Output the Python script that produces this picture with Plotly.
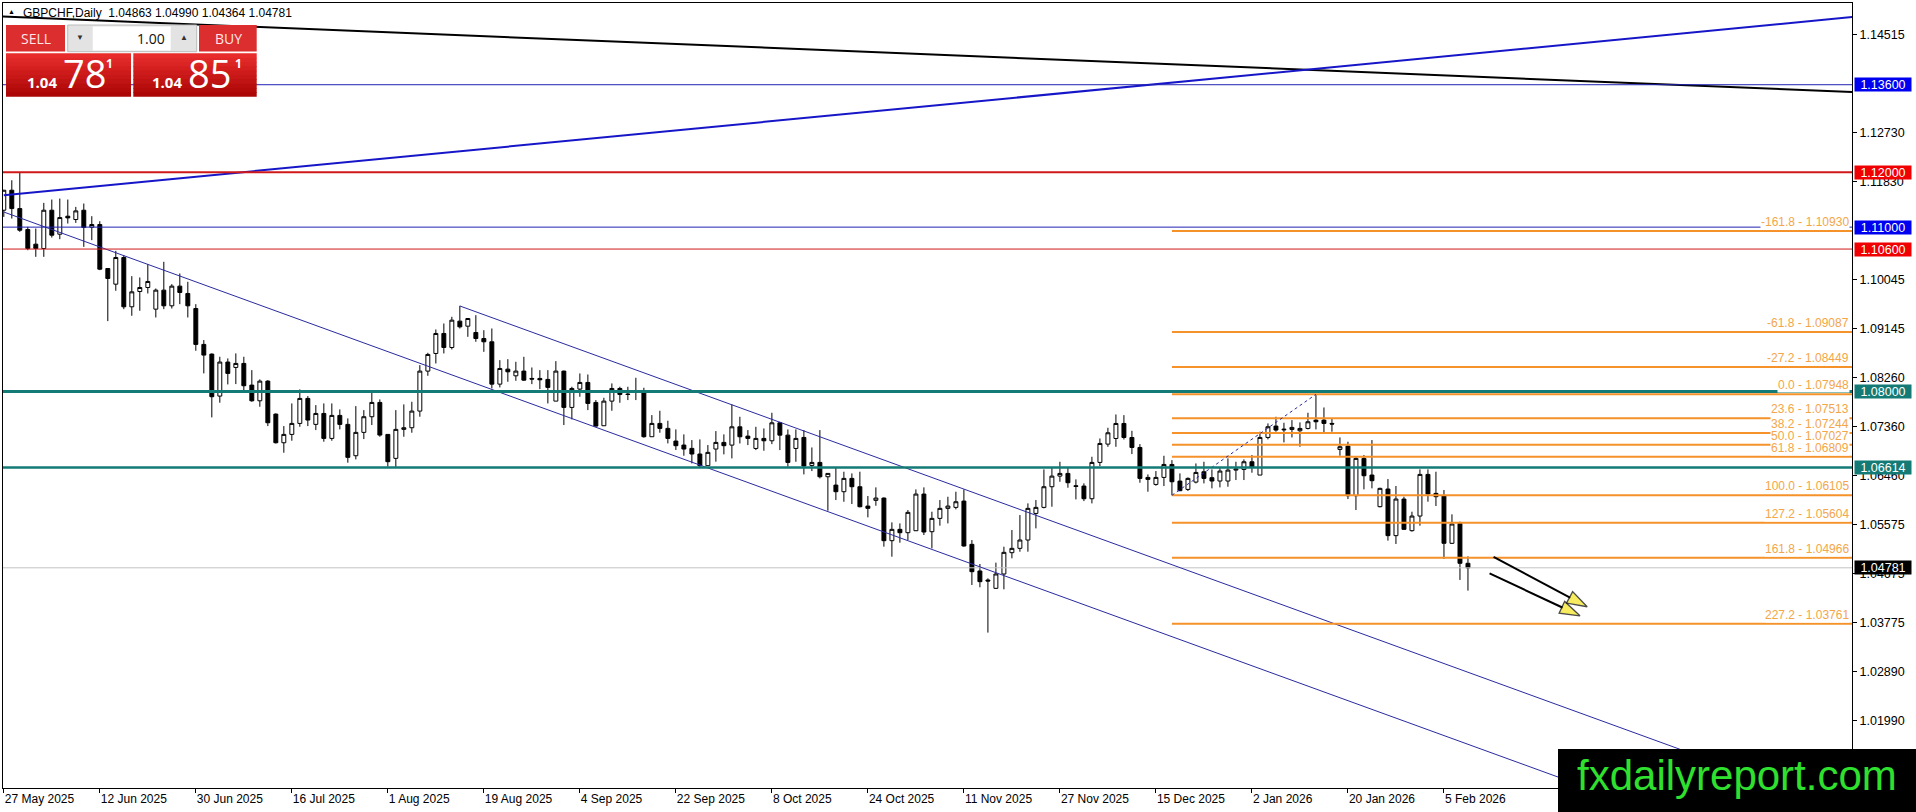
import plotly.graph_objects as go

# GBPCHF daily candles, bar 0 = 27 May 2025, last bar = 10 Feb 2026
opens = [
    1.11309, 1.11674, 1.11339, 1.10956, 1.10689, 1.10610, 1.11309, 1.10871, 1.11200, 1.11139,
    1.11309, 1.10999, 1.11048, 1.10245, 1.09959, 1.10446, 1.09546, 1.09825, 1.09898, 1.09503,
    1.09850, 1.09564, 1.09923, 1.09789, 1.09515, 1.08859, 1.08682, 1.07916, 1.08537, 1.08439,
    1.08512, 1.08116, 1.07830, 1.08189, 1.07587, 1.07064, 1.07216, 1.07417, 1.07873, 1.07399,
    1.07599, 1.07143, 1.07563, 1.07399, 1.06827, 1.07253, 1.07539, 1.07800, 1.07216, 1.06779,
    1.07308, 1.07338, 1.07642, 1.08372, 1.08694, 1.09059, 1.08803, 1.09284, 1.09192, 1.09077,
    1.08967, 1.08907, 1.08134, 1.08408, 1.08286, 1.08372, 1.08238, 1.08238, 1.08220, 1.07824,
    1.08372, 1.07709, 1.08043, 1.08165, 1.07800, 1.07374, 1.07824, 1.08055, 1.07952, 1.08013,
    1.08007, 1.07174, 1.07417, 1.07326, 1.07095, 1.07022, 1.06961, 1.06858, 1.06645, 1.06949,
    1.07070, 1.07021, 1.07355, 1.07185, 1.06960, 1.07143, 1.07100, 1.07428, 1.07203, 1.06960,
    1.07161, 1.06650, 1.06705, 1.06443, 1.06291, 1.06170, 1.06413, 1.06261, 1.05908, 1.06012,
    1.06054, 1.05276, 1.05483, 1.05422, 1.05458, 1.06127, 1.05440, 1.05683, 1.05866, 1.05884,
    1.05999, 1.05209, 1.04723, 1.04558, 1.04406, 1.04668, 1.05057, 1.05136, 1.05288, 1.05774,
    1.05884, 1.06261, 1.06455, 1.06504, 1.06279, 1.06273, 1.06042, 1.06705, 1.07039, 1.07142,
    1.07416, 1.07160, 1.06978, 1.06431, 1.06303, 1.06431, 1.06668, 1.06364, 1.06212, 1.06346,
    1.06534, 1.06426, 1.06365, 1.06365, 1.06565, 1.06577, 1.06717, 1.06474, 1.07161, 1.07368,
    1.07313, 1.07307, 1.07283, 1.07325, 1.07477, 1.07477, 1.07417, 1.06942, 1.07003, 1.06097,
    1.06778, 1.06474, 1.05897, 1.06219, 1.05368, 1.06036, 1.05459, 1.05726, 1.06486, 1.06140,
    1.06091, 1.05228, 1.05593, 1.04863]
highs = [
    1.11680, 1.11856, 1.12008, 1.11005, 1.10975, 1.11443, 1.11504, 1.11522, 1.11504, 1.11370,
    1.11431, 1.11200, 1.11108, 1.10250, 1.10567, 1.10488, 1.10105, 1.10081, 1.10324, 1.09880,
    1.10367, 1.09959, 1.10154, 1.10002, 1.09594, 1.08938, 1.08695, 1.08634, 1.08603, 1.08695,
    1.08634, 1.08390, 1.08220, 1.08207, 1.07600, 1.07368, 1.07782, 1.08037, 1.07916, 1.07751,
    1.07782, 1.07782, 1.07672, 1.07508, 1.07733, 1.07660, 1.07982, 1.07855, 1.07220, 1.07660,
    1.07764, 1.07812, 1.08481, 1.08706, 1.09132, 1.09241, 1.09363, 1.09563, 1.09332, 1.09393,
    1.09119, 1.09150, 1.08572, 1.08590, 1.08542, 1.08633, 1.08438, 1.08390, 1.08390, 1.08554,
    1.08380, 1.08086, 1.08329, 1.08310, 1.07843, 1.07885, 1.08147, 1.08086, 1.08086, 1.08250,
    1.08068, 1.07569, 1.07648, 1.07466, 1.07308, 1.07216, 1.07113, 1.07125, 1.07022, 1.07277,
    1.07216, 1.07763, 1.07538, 1.07295, 1.07355, 1.07325, 1.07611, 1.07447, 1.07307, 1.07307,
    1.07295, 1.06978, 1.07295, 1.06504, 1.06608, 1.06535, 1.06504, 1.06535, 1.06091, 1.06249,
    1.06066, 1.05610, 1.05592, 1.05835, 1.06212, 1.06249, 1.05805, 1.06018, 1.06078, 1.06170,
    1.06212, 1.05288, 1.04850, 1.04589, 1.04875, 1.05166, 1.05470, 1.05744, 1.05957, 1.06018,
    1.06577, 1.06613, 1.06717, 1.06613, 1.06395, 1.06322, 1.06808, 1.07142, 1.07337, 1.07580,
    1.07568, 1.07282, 1.07039, 1.06486, 1.06547, 1.06826, 1.06747, 1.06504, 1.06431, 1.06686,
    1.06717, 1.06578, 1.06614, 1.06778, 1.06717, 1.06760, 1.06839, 1.07265, 1.07417, 1.07538,
    1.07429, 1.07477, 1.07435, 1.07611, 1.07948, 1.07708, 1.07508, 1.07161, 1.07082, 1.06821,
    1.06839, 1.07113, 1.06243, 1.06401, 1.06274, 1.06079, 1.05805, 1.06578, 1.06578, 1.06535,
    1.06201, 1.05757, 1.05623, 1.04990]
lows = [
    1.11187, 1.11157, 1.10914, 1.10579, 1.10458, 1.10458, 1.10810, 1.10780, 1.11066, 1.11078,
    1.10640, 1.10762, 1.10215, 1.09284, 1.09838, 1.09503, 1.09382, 1.09473, 1.09789, 1.09351,
    1.09503, 1.09515, 1.09594, 1.09351, 1.08743, 1.08330, 1.07527, 1.07795, 1.08129, 1.08135,
    1.08008, 1.07812, 1.07721, 1.07368, 1.07050, 1.06882, 1.07101, 1.07356, 1.07368, 1.07295,
    1.07083, 1.07101, 1.07308, 1.06700, 1.06760, 1.07131, 1.07387, 1.07174, 1.06627, 1.06614,
    1.07174, 1.07247, 1.07539, 1.08286, 1.08511, 1.08694, 1.08767, 1.09150, 1.08998, 1.08907,
    1.08724, 1.08055, 1.08074, 1.08177, 1.08195, 1.08195, 1.08134, 1.08043, 1.07782, 1.07824,
    1.07387, 1.07490, 1.07903, 1.07660, 1.07356, 1.07370, 1.07648, 1.07794, 1.07843, 1.07843,
    1.07156, 1.07174, 1.07247, 1.07052, 1.06931, 1.06827, 1.06687, 1.06614, 1.06640, 1.06718,
    1.06852, 1.06778, 1.07051, 1.07021, 1.06930, 1.06918, 1.07039, 1.06930, 1.06626, 1.06717,
    1.06486, 1.06547, 1.06413, 1.05823, 1.06018, 1.05987, 1.05945, 1.05884, 1.05702, 1.05914,
    1.05167, 1.04984, 1.05239, 1.05288, 1.05452, 1.05379, 1.05136, 1.05550, 1.05592, 1.05848,
    1.05167, 1.04467, 1.04425, 1.03598, 1.04394, 1.04388, 1.04954, 1.05075, 1.05075, 1.05501,
    1.05866, 1.05896, 1.06352, 1.06243, 1.06030, 1.05999, 1.05957, 1.06638, 1.06990, 1.06990,
    1.07124, 1.06857, 1.06334, 1.06170, 1.06279, 1.06273, 1.06105, 1.06182, 1.06182, 1.06322,
    1.06322, 1.06231, 1.06249, 1.06261, 1.06383, 1.06383, 1.06517, 1.06474, 1.07125, 1.07265,
    1.07070, 1.07161, 1.06991, 1.07307, 1.07307, 1.07246, 1.07265, 1.06827, 1.06036, 1.05836,
    1.06213, 1.06231, 1.05884, 1.05277, 1.05216, 1.05471, 1.05441, 1.05550, 1.05988, 1.05909,
    1.04942, 1.05216, 1.04559, 1.04364]
closes = [
    1.11674, 1.11339, 1.10944, 1.10610, 1.10610, 1.11309, 1.10853, 1.11175, 1.11169, 1.11297,
    1.10993, 1.11048, 1.10233, 1.10063, 1.10446, 1.09546, 1.09819, 1.09898, 1.10008, 1.09850,
    1.09564, 1.09923, 1.09807, 1.09564, 1.08859, 1.08664, 1.07904, 1.08537, 1.08330, 1.08512,
    1.08105, 1.07830, 1.08189, 1.07429, 1.07064, 1.07216, 1.07417, 1.07873, 1.07478, 1.07599,
    1.07143, 1.07563, 1.07399, 1.06797, 1.07253, 1.07539, 1.07800, 1.07204, 1.06718, 1.07308,
    1.07338, 1.07642, 1.08372, 1.08676, 1.09059, 1.08803, 1.09302, 1.09180, 1.09332, 1.08967,
    1.08907, 1.08134, 1.08420, 1.08359, 1.08372, 1.08207, 1.08226, 1.08213, 1.08074, 1.08372,
    1.07709, 1.08055, 1.08165, 1.07782, 1.07368, 1.07824, 1.08055, 1.07946, 1.07946, 1.07995,
    1.07174, 1.07417, 1.07326, 1.07143, 1.07010, 1.06949, 1.06858, 1.06645, 1.06888, 1.07070,
    1.07010, 1.07355, 1.07173, 1.07143, 1.07143, 1.07100, 1.07428, 1.07203, 1.06705, 1.07143,
    1.06638, 1.06705, 1.06443, 1.06504, 1.06170, 1.06413, 1.06261, 1.05896, 1.05866, 1.06054,
    1.05276, 1.05483, 1.05422, 1.05793, 1.06127, 1.05434, 1.05683, 1.05866, 1.05908, 1.05987,
    1.05179, 1.04710, 1.04528, 1.04540, 1.04668, 1.05063, 1.05136, 1.05288, 1.05866, 1.05884,
    1.06261, 1.06455, 1.06504, 1.06334, 1.06267, 1.06042, 1.06705, 1.07051, 1.07246, 1.07416,
    1.07160, 1.06978, 1.06413, 1.06395, 1.06431, 1.06668, 1.06352, 1.06188, 1.06413, 1.06522,
    1.06413, 1.06365, 1.06547, 1.06565, 1.06584, 1.06717, 1.06614, 1.07161, 1.07356, 1.07295,
    1.07301, 1.07344, 1.07325, 1.07447, 1.07447, 1.07417, 1.07405, 1.06991, 1.06097, 1.06778,
    1.06462, 1.06371, 1.06231, 1.05368, 1.06036, 1.05483, 1.05726, 1.06486, 1.06128, 1.06079,
    1.05228, 1.05580, 1.04863, 1.04781]

tick_bars = [0, 12, 24, 36, 48, 60, 72, 84, 96, 108, 120, 132, 144, 156, 168, 180]
tick_labels = ["27 May 2025", "12 Jun 2025", "30 Jun 2025", "16 Jul 2025", "1 Aug 2025",
               "19 Aug 2025", "4 Sep 2025", "22 Sep 2025", "8 Oct 2025", "24 Oct 2025",
               "11 Nov 2025", "27 Nov 2025", "15 Dec 2025", "2 Jan 2026", "20 Jan 2026",
               "5 Feb 2026"]
price_ticks = [1.14515, 1.12730, 1.11830, 1.10045, 1.09145, 1.08260,
               1.07360, 1.06460, 1.05575, 1.04675, 1.03775, 1.02890, 1.01990]

# horizontal levels with tags on the price axis
level_prices = [1.13600, 1.12000, 1.11000, 1.10600, 1.08000, 1.06614]

# fibonacci drawn from bar 146 low to bar 164 high
fib_bars = [146, 164]
fib_levels = [-161.8, -61.8, -27.2, 0.0, 23.6, 38.2, 50.0, 61.8, 100.0, 127.2, 161.8, 227.2]
fib_prices = [1.10930, 1.09087, 1.08449, 1.07948, 1.07513, 1.07244, 1.07027, 1.06809,
              1.06105, 1.05604, 1.04966, 1.03761]

# trend lines: two anchor points each (bar, price)
black_line = ([0, 183], [1.14844, 1.13753])
blue_line = ([0, 183], [1.11583, 1.14160])
channel_low = ([0, 183], [1.11276, 1.01559])
channel_high = ([57, 183], [1.09561, 1.02874])

# projection arrows (start, tip)
arrow_bars = [[186.2, 197.9], [185.7, 197.0]]
arrow_prices = [[1.04982, 1.04070], [1.04679, 1.03905]]

symbol = "GBPCHF,Daily"
bid = 1.04781
ask = 1.04851

# ---- layout geometry (pixels) ----
W, H = 1916, 812
PL, PT, PW, PH = 3, 3, 1849, 785
X_RANGE = [-0.1, 231.0]
Y_RANGE = [1.00761, 1.15092]
FONT = "Liberation Sans"
UI_FONT = "Open Sans"


def px(x):
    return (x - PL) / PW


def py(y):
    return 1 - (y - PT) / PH


def ray(line, x_start=None, x_end=240):
    xs, ys = line
    slope = (ys[1] - ys[0]) / (xs[1] - xs[0])
    x0 = xs[0] if x_start is None else x_start
    return [x0, x_end], [ys[0] + slope * (x0 - xs[0]), ys[0] + slope * (x_end - xs[0])]


fig = go.Figure()
bars = list(range(len(opens)))
fig.add_trace(go.Candlestick(
    x=bars, open=opens, high=highs, low=lows, close=closes,
    increasing=dict(line=dict(color="black", width=1), fillcolor="white"),
    decreasing=dict(line=dict(color="black", width=1), fillcolor="black"),
    whiskerwidth=0, hoverinfo="skip"))


def add_line(xs, ys, color, width, dash="solid"):
    fig.add_trace(go.Scatter(x=xs, y=ys, mode="lines", hoverinfo="skip",
                             line=dict(color=color, width=width, dash=dash)))


# current price line
add_line([-5, 240], [closes[-1], closes[-1]], "#c4c4c4", 1)

# channel
add_line(*ray(channel_low), "#2a2aa0", 1)
add_line(*ray(channel_high), "#2a2aa0", 1)
# long trend lines
add_line(*ray(black_line, x_start=-5), "black", 2)
add_line(*ray(blue_line), "#1616c8", 2)

# fibonacci
fib_color = "#f5922a"
for p in fib_prices:
    add_line([fib_bars[0], 240], [p, p], fib_color, 2)
add_line(fib_bars, [fib_prices[fib_levels.index(100.0)], fib_prices[fib_levels.index(0.0)]],
         "#2a2aa0", 1, "3px,3px")

# horizontal levels
level_styles = [("#2020b4", 1), ("#d01818", 2), ("#2020b4", 1), ("#d01818", 1),
                ("#137a75", 3), ("#137a75", 2.5)]
for p, (c, w) in zip(level_prices, level_styles):
    add_line([-5, 240], [p, p], c, w)

# arrows
for xs, ys in zip(arrow_bars, arrow_prices):
    fig.add_trace(go.Scatter(
        x=xs, y=ys, mode="lines+markers", hoverinfo="skip",
        line=dict(color="black", width=2),
        marker=dict(symbol=["circle", "arrow"], size=[0, 21], angleref="previous",
                    color="#f4e41c", line=dict(color="black", width=1.3))))

shapes = []
annots = []


def rect(x0, y0, x1, y1, fill, line_color=None):
    shapes.append(dict(type="rect", xref="paper", yref="paper", layer="above",
                       x0=px(x0), x1=px(x1), y0=py(y1), y1=py(y0), fillcolor=fill,
                       line=dict(width=1 if line_color else 0, color=line_color or fill)))


def text(x, y, s, size, color, xanchor="center", family=FONT):
    annots.append(dict(xref="paper", yref="paper", x=px(x), y=py(y), text=s, showarrow=False,
                       xanchor=xanchor, yanchor="middle",
                       font=dict(size=size, color=color, family=family)))


def red_gradient(x0, y0, x1, y1, steps=10):
    top, bottom = (232, 44, 44), (172, 6, 6)
    h = (y1 - y0) / steps
    for i in range(steps):
        t = i / (steps - 1)
        c = tuple(round(a + (b - a) * t) for a, b in zip(top, bottom))
        rect(x0, y0 + i * h, x1, min(y1, y0 + (i + 1) * h + 0.6), "rgb(%d,%d,%d)" % c)


# fib labels
for lvl, p in zip(fib_levels, fib_prices):
    annots.append(dict(xref="paper", yref="y", x=1, y=p, xanchor="right", yanchor="bottom",
                       xshift=-2, yshift=1, text=f"{lvl:.1f} - {p:.5f}", showarrow=False,
                       bgcolor="white", borderpad=0,
                       font=dict(size=12, color="#f3a649", family=FONT)))

# price axis tags
tag_colors = ["#0000f0", "#f00000", "#0000f0", "#f00000", "#137a75", "#137a75"]
for p, c in zip(level_prices + [closes[-1]], tag_colors + ["black"]):
    annots.append(dict(xref="paper", yref="y", x=1, y=p, xanchor="left", yanchor="middle",
                       xshift=2, text=f"{p:.5f}", showarrow=False, bgcolor=c, borderpad=0,
                       width=56, height=13, align="center",
                       font=dict(size=12.5, color="white", family=FONT)))

# header
text(11, 12, "▲", 7, "black")
text(21, 13, symbol + "\u00a0\u00a0" + " ".join(f"{v:.5f}" for v in
                                               (opens[-1], highs[-1], lows[-1], closes[-1])),
     12, "black", xanchor="left")

# one-click trading panel
rect(6, 25, 65, 51.5, "#dc2e2e")
rect(199, 25, 256.7, 51.5, "#dc2e2e")
rect(67.7, 25, 196.7, 51.7, "#e3e3e3", "#bcbcbc")
rect(92.7, 26.5, 170.7, 50.5, "white")
red_gradient(6, 53.3, 131, 96.7)
red_gradient(133.3, 53.3, 256.7, 96.7)
text(35.5, 38.5, "SELL", 14, "#ffe6e6", family=UI_FONT)
text(228, 38.5, "BUY", 14, "#ffe6e6", family=UI_FONT)
text(80, 38, "▼", 8, "#333333")
text(183.5, 38, "▲", 8, "#333333")
text(167, 38.5, "1.00", 14, "#111111", xanchor="right", family=UI_FONT)
for price, x_small, x_big, x_sup in ((bid, 25, 61, 104), (ask, 150, 186, 233)):
    s = f"{price:.5f}"
    text(x_small, 82, "<b>" + s[:4] + "</b>", 15, "white", xanchor="left", family=UI_FONT)
    text(x_big, 73, s[4:6], 38, "white", xanchor="left", family=UI_FONT)
    text(x_sup, 64, "<b>" + s[6] + "</b>", 12, "white", xanchor="left", family=UI_FONT)

# watermark
rect(1558, 749, 1920, 816, "black")
text(1736.5, 775, "fxdailyreport.com", 42, "#2fe02f")

fig.update_layout(
    width=W, height=H, margin=dict(l=PL, r=W - PL - PW, t=PT, b=H - PT - PH),
    plot_bgcolor="white", paper_bgcolor="white", showlegend=False,
    font=dict(family=FONT, color="black", size=12),
    shapes=shapes, annotations=annots,
    xaxis=dict(range=X_RANGE, tickvals=tick_bars, ticktext=tick_labels, ticks="outside",
               ticklen=4, tickcolor="black", showline=True, linecolor="black", mirror=True,
               showgrid=False, zeroline=False, rangeslider=dict(visible=False),
               ticklabelposition="outside right", tickfont=dict(size=12), fixedrange=True),
    yaxis=dict(range=Y_RANGE, side="right", tickvals=price_ticks,
               ticktext=[f"{v:.5f}" for v in price_ticks], ticks="outside", ticklen=4,
               tickcolor="black", showline=True, linecolor="black", mirror=True,
               showgrid=False, zeroline=False, tickfont=dict(size=12.5), fixedrange=True),
)

fig.write_html("out.html", config={"displayModeBar": False},
               post_script="document.body.style.margin='0';"
                           "document.body.style.overflow='hidden';")
